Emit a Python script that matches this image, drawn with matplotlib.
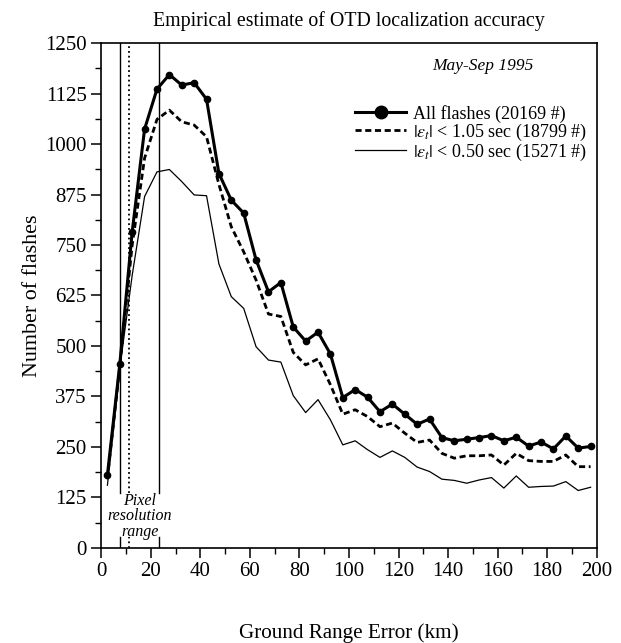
import numpy as np
import matplotlib
matplotlib.use("Agg")
import matplotlib.pyplot as plt

# bin centres (km) and counts per 5 km bin
range_km = [2.5, 7.5, 12.5, 17.5, 22.5, 27.5, 32.5, 37.5, 42.5, 47.5,
            52.5, 57.5, 62.5, 67.5, 72.5, 77.5, 82.5, 87.5, 92.5, 97.5,
            102.5, 107.5, 112.5, 117.5, 122.5, 127.5, 132.5, 137.5, 142.5, 147.5,
            152.5, 157.5, 162.5, 167.5, 172.5, 177.5, 182.5, 187.5, 192.5, 197.5]

all_flashes = [181, 455, 783, 1037, 1136, 1172, 1146, 1152, 1111, 927,
               861, 829, 713, 634, 657, 547, 512, 534, 480, 372,
               392, 373, 337, 356, 331, 306, 319, 273, 265, 269,
               273, 278, 265, 274, 252, 262, 245, 277, 247, 251]

dt_105 = [170, 450, 750, 965, 1061, 1084, 1055, 1047, 1018, 900,
          795, 733, 663, 579, 573, 484, 453, 468, 404, 331,
          342, 325, 300, 309, 284, 261, 267, 234, 222, 228,
          228, 230, 205, 234, 216, 214, 214, 230, 201, 201]

dt_050 = [155, 445, 675, 870, 931, 937, 907, 874, 872, 703,
          622, 593, 498, 465, 460, 377, 335, 367, 317, 255,
          265, 243, 224, 240, 224, 200, 189, 170, 167, 160,
          168, 174, 148, 178, 150, 152, 153, 164, 142, 150]

labels = ["All flashes (20169 #)",
          r"$|\varepsilon_t|$ < 1.05 sec (18799 #)",
          r"$|\varepsilon_t|$ < 0.50 sec (15271 #)"]

# pixel resolution markers (km)
pix_lines = [7.4, 11.2, 23.4]
pix_styles = ["-", ":", "-"]

plt.rcParams["font.family"] = "Liberation Serif"
plt.rcParams["mathtext.fontset"] = "stix"

fig = plt.figure(figsize=(6.21, 6.43), dpi=100)
ax = fig.add_axes([0.163, 0.148, 0.798, 0.785])

for xv, ls in zip(pix_lines, pix_styles):
    lw = 1.0 if ls == "-" else 1.3
    ax.plot([xv, xv], [135, 1250], color="black", lw=lw, ls=ls)
    ax.plot([xv, xv], [0, 28], color="black", lw=lw, ls=ls)
ax.text(15.5, 78, "Pixel\nresolution\nrange", style="italic", fontsize=11.5,
        ha="center", va="center", linespacing=0.95)

ax.plot(range_km, dt_050, color="black", lw=0.9, label=labels[2])
ax.plot(range_km, dt_105, color="black", lw=2.0, ls=(0, (2.2, 1.3)), label=labels[1])
ax.plot(range_km, all_flashes, color="black", lw=2.2, marker="o", ms=4.5,
        label=labels[0])

h, l = ax.get_legend_handles_labels()
leg = ax.legend(h[::-1], l[::-1], loc="upper left", bbox_to_anchor=(0.513, 0.878),
                frameon=False, fontsize=13, handlelength=2.8, handletextpad=0.4,
                labelspacing=-0.06, borderpad=0, borderaxespad=0, markerscale=2.0)

ax.text(0.77, 0.955, "May-Sep 1995", transform=ax.transAxes, style="italic",
        fontsize=12.5, ha="center", va="center")

ax.set_xlim(0, 200)
ax.set_ylim(0, 1250)
ax.set_xticks(np.arange(0, 201, 20))
ax.set_xticks(np.arange(0, 201, 10), minor=True)
ax.set_yticks(np.arange(0, 1251, 125))
ax.set_yticks(np.arange(0, 1251, 62.5), minor=True)
ax.tick_params(which="major", direction="out", length=7, width=1.1, labelsize=15)
ax.tick_params(which="minor", direction="out", length=4, width=1.0)
for s in ax.spines.values():
    s.set_linewidth(1.2)

ax.set_title("Empirical estimate of OTD localization accuracy", fontsize=14.3, pad=12)
fig.text(0.053, 0.54, "Number of flashes", rotation=90, fontsize=15.8,
         ha="center", va="center")
fig.text(0.562, 0.016, "Ground Range Error (km)", fontsize=15.2,
         ha="center", va="center")

fig.savefig("out.png", dpi=100)
